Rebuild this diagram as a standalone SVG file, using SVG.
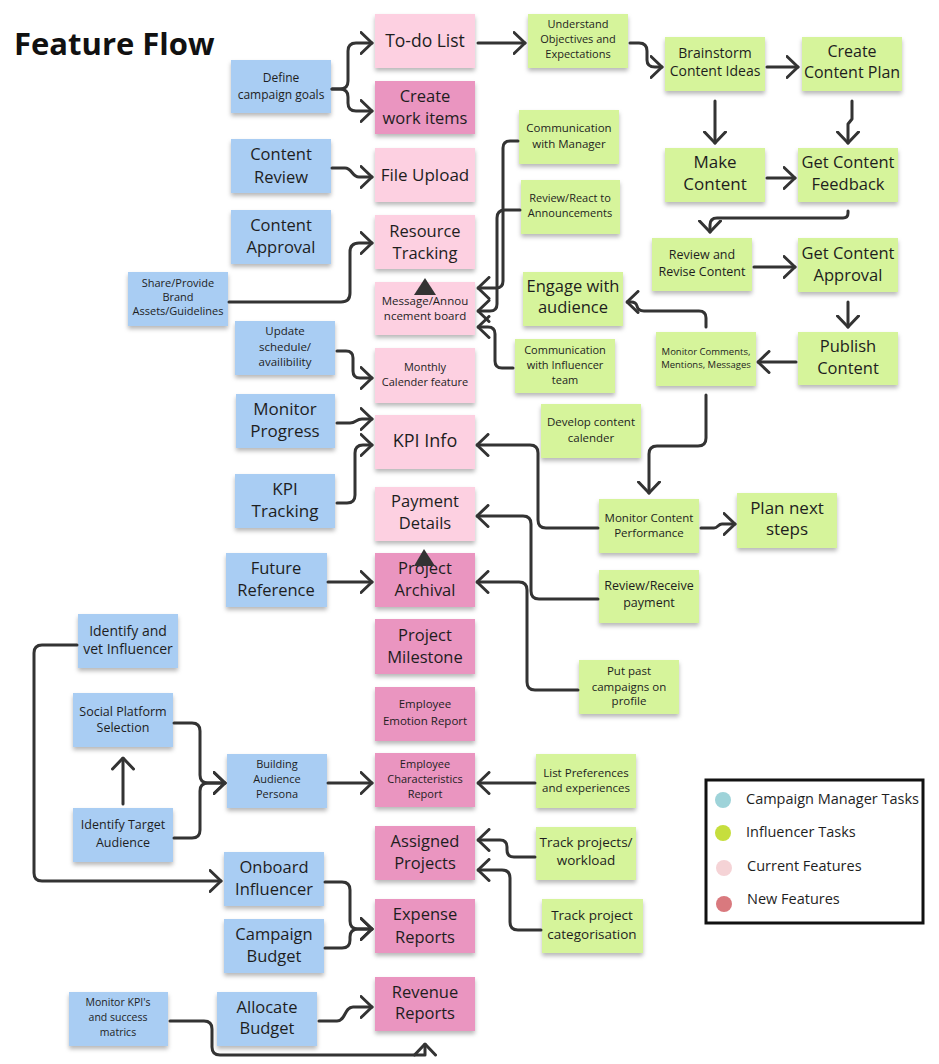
<svg xmlns="http://www.w3.org/2000/svg" width="939" height="1064" viewBox="0 0 939 1064">
<defs>
<style>
.n rect{filter:url(#sh)}
.b{fill:#a9cdf3}.g{fill:#d6f49b}.p{fill:#fdd0e1}.d{fill:#ea95c0}
text{font-family:"Open Sans","DejaVu Sans",sans-serif;fill:#1e1e1e;text-anchor:middle}
.L{font-size:16.5px}.M{font-size:14px}.m{font-size:12.5px}.S{font-size:11.5px}.s{font-size:11px}.x{font-size:9.5px}
.c path{fill:none;stroke:#333;stroke-width:3;stroke-linecap:round;stroke-linejoin:round;marker-end:url(#ah)}
.lg{font-size:14.5px;text-anchor:start}
</style>
<filter id="sh" x="-10%" y="-10%" width="120%" height="140%">
<feDropShadow dx="0" dy="3" stdDeviation="2" flood-color="#000" flood-opacity="0.28"/>
</filter>
<marker id="ah" viewBox="0 0 14 24" refX="12.5" refY="12" markerWidth="14" markerHeight="24" markerUnits="userSpaceOnUse" orient="auto">
<path d="M1.5,1.5 L12.5,12 L1.5,22.5" fill="none" stroke="#333" stroke-width="3" stroke-linecap="round" stroke-linejoin="round"/>
</marker>
</defs>
<rect width="939" height="1064" fill="#fff"/>
<text x="14" y="55" style="font-size:31px;font-weight:700;text-anchor:start;fill:#111">Feature Flow</text>

<!-- Pink features -->
<g id="todo" class="n"><rect class="p" x="375" y="14" width="100" height="54"/><text class="L" x="425" y="47" style="font-size:17.5px">To-do List</text></g>
<g id="create-work" class="n"><rect class="d" x="375" y="81" width="100" height="53"/><text class="L" x="425" y="102">Create</text><text class="L" x="425" y="124">work items</text></g>
<g id="file-upload" class="n"><rect class="p" x="375" y="148" width="100" height="54"/><text class="L" x="425" y="181" style="font-size:17px">File Upload</text></g>
<g id="resource" class="n"><rect class="p" x="375" y="215" width="100" height="54"/><text class="L" x="425" y="237">Resource</text><text class="L" x="425" y="259">Tracking</text></g>
<g id="message" class="n"><rect class="p" x="375" y="282" width="100" height="53"/><text class="S" x="425" y="305">Message/Annou</text><text class="S" x="425" y="320">ncement board</text></g>
<g id="monthly" class="n"><rect class="p" x="375" y="348" width="100" height="55"/><text class="s" x="425" y="371">Monthly</text><text class="s" x="425" y="386">Calender feature</text></g>
<g id="kpi-info" class="n"><rect class="p" x="375" y="415" width="100" height="54"/><text class="L" x="425" y="447" style="font-size:18px">KPI Info</text></g>
<g id="payment" class="n"><rect class="p" x="375" y="487" width="100" height="54"/><text class="L" x="425" y="507">Payment</text><text class="L" x="425" y="529">Details</text></g>
<g id="archival" class="n"><rect class="d" x="375" y="553" width="100" height="54"/><text class="L" x="425" y="574">Project</text><text class="L" x="425" y="596">Archival</text></g>
<g id="milestone" class="n"><rect class="d" x="375" y="619" width="100" height="55"/><text class="L" x="425" y="641">Project</text><text class="L" x="425" y="663">Milestone</text></g>
<g id="emotion" class="n"><rect class="d" x="375" y="687" width="100" height="54"/><text class="S" x="425" y="708">Employee</text><text class="S" x="425" y="725">Emotion Report</text></g>
<g id="characteristics" class="n"><rect class="d" x="375" y="753" width="100" height="54"/><text class="s" x="425" y="768">Employee</text><text class="s" x="425" y="783">Characteristics</text><text class="s" x="425" y="798">Report</text></g>
<g id="assigned" class="n"><rect class="d" x="375" y="826" width="100" height="54"/><text class="L" x="425" y="847">Assigned</text><text class="L" x="425" y="869">Projects</text></g>
<g id="expense" class="n"><rect class="d" x="375" y="899" width="100" height="54"/><text class="L" x="425" y="920">Expense</text><text class="L" x="425" y="943">Reports</text></g>
<g id="revenue" class="n"><rect class="d" x="375" y="977" width="100" height="54"/><text class="L" x="425" y="998">Revenue</text><text class="L" x="425" y="1019">Reports</text></g>

<!-- Blue: campaign manager tasks -->
<g id="define-goals" class="n"><rect class="b" x="231" y="60" width="100" height="53"/><text class="S" x="281" y="82" style="font-size:12px">Define</text><text class="S" x="281" y="99" style="font-size:12px">campaign goals</text></g>
<g id="content-review" class="n"><rect class="b" x="231" y="139" width="100" height="54"/><text class="L" x="281" y="160">Content</text><text class="L" x="281" y="183">Review</text></g>
<g id="content-approval" class="n"><rect class="b" x="231" y="210" width="100" height="54"/><text class="L" x="281" y="231">Content</text><text class="L" x="281" y="253">Approval</text></g>
<g id="share-brand" class="n"><rect class="b" x="128" y="272" width="100" height="54"/><text class="s" x="178" y="287">Share/Provide</text><text class="s" x="178" y="301">Brand</text><text class="s" x="178" y="315">Assets/Guidelines</text></g>
<g id="update-schedule" class="n"><rect class="b" x="235" y="321" width="100" height="54"/><text class="S" x="285" y="335">Update</text><text class="S" x="285" y="351">schedule/</text><text class="S" x="285" y="366">availibility</text></g>
<g id="monitor-progress" class="n"><rect class="b" x="236" y="394" width="99" height="54"/><text class="L" x="285" y="415" style="font-size:17px">Monitor</text><text class="L" x="285" y="437" style="font-size:17px">Progress</text></g>
<g id="kpi-tracking" class="n"><rect class="b" x="235" y="474" width="100" height="54"/><text class="L" x="285" y="495" style="font-size:17px">KPI</text><text class="L" x="285" y="517" style="font-size:17px">Tracking</text></g>
<g id="future-ref" class="n"><rect class="b" x="226" y="553" width="101" height="54"/><text class="L" x="276" y="574">Future</text><text class="L" x="276" y="596">Reference</text></g>
<g id="identify-vet" class="n"><rect class="b" x="78" y="614" width="100" height="54"/><text class="M" x="128" y="636">Identify and</text><text class="M" x="128" y="654">vet Influencer</text></g>
<g id="social-platform" class="n"><rect class="b" x="73" y="693" width="100" height="54"/><text class="m" x="123" y="716">Social Platform</text><text class="m" x="123" y="732">Selection</text></g>
<g id="building-persona" class="n"><rect class="b" x="227" y="754" width="100" height="54"/><text class="s" x="277" y="768">Building</text><text class="s" x="277" y="783">Audience</text><text class="s" x="277" y="798">Persona</text></g>
<g id="identify-target" class="n"><rect class="b" x="73" y="808" width="100" height="54"/><text class="m" x="123" y="829">Identify Target</text><text class="m" x="123" y="847">Audience</text></g>
<g id="onboard" class="n"><rect class="b" x="224" y="852" width="100" height="54"/><text class="L" x="274" y="873">Onboard</text><text class="L" x="274" y="895">Influencer</text></g>
<g id="campaign-budget" class="n"><rect class="b" x="224" y="919" width="100" height="54"/><text class="L" x="274" y="940">Campaign</text><text class="L" x="274" y="962">Budget</text></g>
<g id="monitor-kpis" class="n"><rect class="b" x="69" y="992" width="99" height="54"/><text class="s" x="118" y="1006" style="font-size:10.5px">Monitor KPI's</text><text class="s" x="118" y="1021" style="font-size:10.5px">and success</text><text class="s" x="118" y="1036" style="font-size:10.5px">matrics</text></g>
<g id="allocate-budget" class="n"><rect class="b" x="217" y="992" width="100" height="54"/><text class="L" x="267" y="1013">Allocate</text><text class="L" x="267" y="1034">Budget</text></g>

<!-- Green: influencer tasks -->
<g id="understand" class="n"><rect class="g" x="528" y="14" width="100" height="54"/><text class="s" x="578" y="28">Understand</text><text class="s" x="578" y="43">Objectives and</text><text class="s" x="578" y="58">Expectations</text></g>
<g id="brainstorm" class="n"><rect class="g" x="665" y="37" width="100" height="54"/><text class="M" x="715" y="58">Brainstorm</text><text class="M" x="715" y="76">Content Ideas</text></g>
<g id="create-plan" class="n"><rect class="g" x="802" y="37" width="100" height="54"/><text class="L" x="852" y="57" style="font-size:16px">Create</text><text class="L" x="852" y="78" style="font-size:16px">Content Plan</text></g>
<g id="comm-manager" class="n"><rect class="g" x="519" y="110" width="100" height="54"/><text class="S" x="569" y="132">Communication</text><text class="S" x="569" y="148">with Manager</text></g>
<g id="make-content" class="n"><rect class="g" x="665" y="148" width="100" height="54"/><text class="L" x="715" y="168" style="font-size:17px">Make</text><text class="L" x="715" y="190" style="font-size:17px">Content</text></g>
<g id="get-feedback" class="n"><rect class="g" x="798" y="148" width="100" height="54"/><text class="L" x="848" y="168">Get Content</text><text class="L" x="848" y="190">Feedback</text></g>
<g id="review-react" class="n"><rect class="g" x="521" y="180" width="99" height="54"/><text class="s" x="570" y="202">Review/React to</text><text class="s" x="570" y="217">Announcements</text></g>
<g id="review-revise" class="n"><rect class="g" x="652" y="238" width="100" height="53"/><text class="m" x="702" y="259">Review and</text><text class="m" x="702" y="276">Revise Content</text></g>
<g id="get-approval" class="n"><rect class="g" x="798" y="238" width="100" height="54"/><text class="L" x="848" y="259">Get Content</text><text class="L" x="848" y="281">Approval</text></g>
<g id="engage" class="n"><rect class="g" x="523" y="272" width="100" height="54"/><text class="L" x="573" y="292">Engage with</text><text class="L" x="573" y="313">audience</text></g>
<g id="comm-influencer" class="n"><rect class="g" x="515" y="339" width="100" height="54"/><text class="s" x="565" y="354">Communication</text><text class="s" x="565" y="369">with Influencer</text><text class="s" x="565" y="384">team</text></g>
<g id="monitor-comments" class="n"><rect class="g" x="656" y="332" width="100" height="54"/><text class="x" x="706" y="355">Monitor Comments,</text><text class="x" x="706" y="368">Mentions, Messages</text></g>
<g id="publish" class="n"><rect class="g" x="798" y="332" width="100" height="53"/><text class="L" x="848" y="352">Publish</text><text class="L" x="848" y="374">Content</text></g>
<g id="develop-calendar" class="n"><rect class="g" x="541" y="404" width="100" height="54"/><text class="S" x="591" y="426">Develop content</text><text class="S" x="591" y="442">calender</text></g>
<g id="monitor-performance" class="n"><rect class="g" x="599" y="499" width="100" height="54"/><text class="S" x="649" y="522">Monitor Content</text><text class="S" x="649" y="537">Performance</text></g>
<g id="plan-next" class="n"><rect class="g" x="737" y="493" width="100" height="55"/><text class="L" x="787" y="514" style="font-size:17px">Plan next</text><text class="L" x="787" y="535" style="font-size:17px">steps</text></g>
<g id="review-receive" class="n"><rect class="g" x="599" y="570" width="100" height="53"/><text class="m" x="649" y="590">Review/Receive</text><text class="m" x="649" y="607">payment</text></g>
<g id="put-past" class="n"><rect class="g" x="579" y="660" width="100" height="54"/><text class="S" x="629" y="675">Put past</text><text class="S" x="629" y="691">campaigns on</text><text class="S" x="629" y="705">profile</text></g>
<g id="list-preferences" class="n"><rect class="g" x="536" y="754" width="100" height="54"/><text class="S" x="586" y="777">List Preferences</text><text class="S" x="586" y="792">and experiences</text></g>
<g id="track-workload" class="n"><rect class="g" x="536" y="827" width="100" height="53"/><text class="M" x="586" y="847" style="font-size:13.5px">Track projects/</text><text class="M" x="586" y="865" style="font-size:13.5px">workload</text></g>
<g id="track-categorisation" class="n"><rect class="g" x="542" y="899" width="101" height="54"/><text class="M" x="592" y="920" style="font-size:13.5px">Track project</text><text class="M" x="592" y="939" style="font-size:13.5px">categorisation</text></g>

<!-- Connectors -->
<g id="connectors" class="c">
<path d="M332,89 H340 Q348,89 348,81 V51 Q348,43 356,43 H372"/>
<path d="M332,89 H340 Q348,89 348,97 V103 Q348,111 356,111 H372"/>
<path d="M332,168 H345 C352,168 352,177 359,177 H372"/>
<path d="M229,302 H341 Q350,302 350,293 V252 Q350,243 359,243 H372"/>
<path d="M337,351 H346 Q353,351 353,358 V371 Q353,378 360,378 H372"/>
<path d="M337,423 H350 C356,423 356,419 362,419 H372"/>
<path d="M337,503 H347 Q355,503 355,495 V453 Q355,445 363,445 H372"/>
<path d="M328,582 H372"/>
<path d="M77,645 H42 Q34,645 34,653 V873 Q34,881 42,881 H221"/>
<path d="M123,804 V758"/>
<path d="M174,723 H192 Q200,723 200,731 V775 Q200,783 208,783 H225"/>
<path d="M174,838 H192 Q200,838 200,830 V791 Q200,783 208,783 H225"/>
<path d="M328,783 H372"/>
<path d="M325,882 H342 Q350,882 350,890 V921 Q350,929 358,929 H372"/>
<path d="M325,948 H342 Q350,948 350,940 V937 Q350,929 358,929 H372"/>
<path d="M319,1021 H337 C346,1021 344,1007 353,1007 H372"/>
<path d="M170,1021 H204 Q212,1021 212,1029 V1047 Q212,1055 220,1055 H425 V1044"/>
<path d="M478,43 H525"/>
<path d="M630,43 H639 Q647,43 647,51 V60 Q647,67 655,67 H662"/>
<path d="M767,67 H798"/>
<path d="M715,101 V143"/>
<path d="M852,101 V119 L848,124 V143"/>
<path d="M767,178 H795"/>
<path d="M848,211 V213 Q848,218 843,218 H717 Q710,218 710,225 V232"/>
<path d="M754,267 H795"/>
<path d="M848,302 V327"/>
<path d="M796,362 H758"/>
<path d="M706,327 V318 Q706,311 699,311 H644 Q638,311 637,306 Q636,302 631,302 H627"/>
<path d="M706,395 V438 Q706,446 698,446 H657 Q649,446 649,454 V493"/>
<path d="M701,528 H714 C718,528 718,524 722,524 H735"/>
<path d="M598,528 H546 Q538,528 538,520 V453 Q538,445 530,445 H477"/>
<path d="M598,599 H539 Q531,599 531,591 V524 Q531,516 523,516 H477"/>
<path d="M578,690 H535 Q527,690 527,682 V590 Q527,582 519,582 H477"/>
<path d="M535,783 H478"/>
<path d="M535,857 H514 Q507,857 507,850 V847 Q507,840 500,840 H478"/>
<path d="M541,930 H518 Q510,930 510,922 V878 Q510,870 502,870 H478"/>
<path d="M518,141 H510 Q503,141 503,148 V281 Q503,288 496,288 H478"/>
<path d="M520,210 H505 Q497,210 497,218 V304 Q497,311 490,311 H478"/>
<path d="M513,368 H502 Q495,368 495,361 V334 Q495,327 488,327 H478"/>
<polygon points="425,278 414,295 436,295" style="fill:#333;stroke:none"/>
<polygon points="424,549 414,566 435,566" style="fill:#333;stroke:none"/>
</g>

<!-- Legend -->
<g id="legend">
<rect x="706" y="780" width="217" height="143" fill="#fff" stroke="#111" stroke-width="3"/>
<circle cx="723" cy="800" r="8" fill="#9ed3d9"/>
<circle cx="723" cy="833" r="8" fill="#c6de3d"/>
<circle cx="724" cy="868" r="8" fill="#f5d3d6"/>
<circle cx="724" cy="904" r="8" fill="#d9797e"/>
<text class="lg" x="746" y="804">Campaign Manager Tasks</text>
<text class="lg" x="746" y="837">Influencer Tasks</text>
<text class="lg" x="747" y="871">Current Features</text>
<text class="lg" x="747" y="904">New Features</text>
</g>
</svg>
